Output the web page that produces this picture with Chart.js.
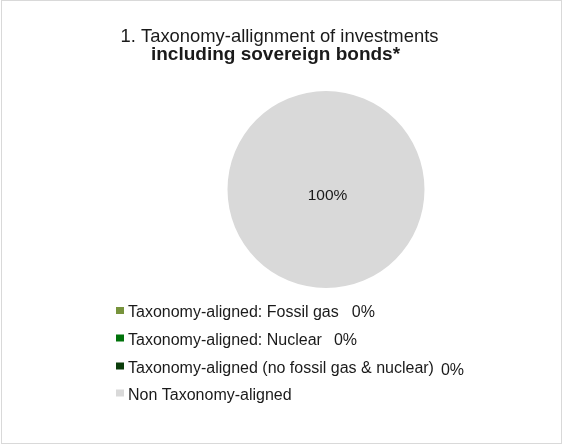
<!DOCTYPE html>
<html>
<head>
<meta charset="utf-8">
<script src="https://cdn.jsdelivr.net/npm/chart.js@4"></script>
<style>
  html, body { margin: 0; padding: 0; background: #fff; }
  #wrap { position: relative; width: 563px; height: 446px; }
</style>
</head>
<body>
<div id="wrap"><canvas id="c" width="563" height="446"></canvas></div>
<script>
const labels = [
  "Taxonomy-aligned: Fossil gas",
  "Taxonomy-aligned: Nuclear",
  "Taxonomy-aligned (no fossil gas & nuclear)",
  "Non Taxonomy-aligned",
]
const values = [0, 0, 0, 100]
const shownValues = ["0%", "0%", "0%", ""]
const colors = ["#77933C", "#00720A", "#0B3D0B", "#D9D9D9"]
const titleLines = ["1. Taxonomy-allignment of investments", "including sovereign bonds*"]

const FONT = "Arial, 'Liberation Sans', sans-serif"

// frame + title + legend drawn around the pie
const decor = {
  id: "decor",
  beforeDraw(chart) {
    const ctx = chart.ctx
    ctx.save()
    ctx.fillStyle = "#fff"
    ctx.fillRect(0, 0, chart.width, chart.height)
    ctx.strokeStyle = "#D9D9D9"
    ctx.lineWidth = 1
    ctx.strokeRect(1.5, 0.5, 560, 443)
    ctx.restore()
  },
  afterDraw(chart) {
    const ctx = chart.ctx
    ctx.save()
    ctx.fillStyle = "#1a1a1a"
    ctx.textAlign = "center"
    ctx.textBaseline = "alphabetic"
    ctx.font = "18.4px " + FONT
    ctx.fillText(titleLines[0], 279.5, 42)
    ctx.font = "bold 19px " + FONT
    ctx.fillText(titleLines[1], 275.5, 60)

    // legend
    ctx.textAlign = "left"
    ctx.font = "16px " + FONT
    const rowY = [317, 344.5, 372.5, 399.5]
    const gaps = [13, 12, 7, 0]
    labels.forEach((lab, i) => {
      const y = rowY[i]
      ctx.fillStyle = colors[i]
      ctx.fillRect(116, y - 10, 8, 7)
      ctx.fillStyle = "#1a1a1a"
      ctx.fillText(lab, 128, y)
      if (shownValues[i]) {
        const w = ctx.measureText(lab).width
        ctx.fillText(shownValues[i], 128 + w + gaps[i], y + (i === 2 ? 2 : 0))
      }
    })

    // data label in the pie
    const meta = chart.getDatasetMeta(0)
    const arc = meta.data[3]
    ctx.textAlign = "center"
    ctx.font = "15.5px " + FONT
    ctx.fillText(values[3] + "%", arc.x + 1.5, arc.y + 10.5)
    ctx.restore()
  }
}

new Chart(document.getElementById("c"), {
  type: "pie",
  data: {
    labels,
    datasets: [{
      data: values,
      backgroundColor: colors,
      borderWidth: 0,
    }]
  },
  options: {
    responsive: false,
    animation: false,
    layout: { padding: { left: 227, right: 138, top: 91, bottom: 158 } },
    plugins: {
      legend: { display: false },
      tooltip: { enabled: false },
    }
  },
  plugins: [decor]
})
</script>
</body>
</html>
